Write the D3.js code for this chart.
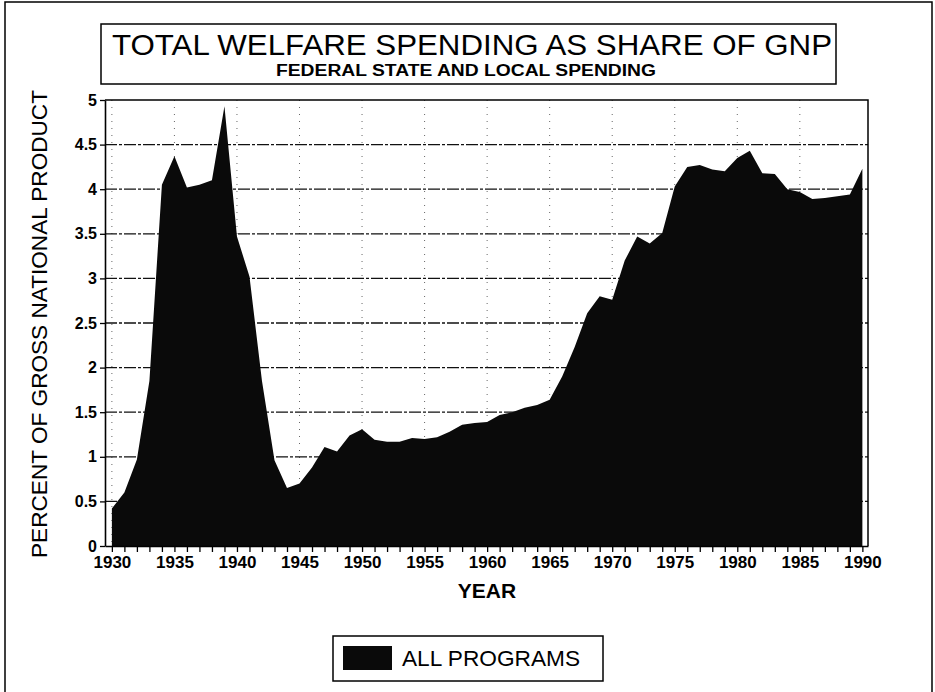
<!DOCTYPE html>
<html>
<head>
<meta charset="utf-8">
<script src="https://cdn.jsdelivr.net/npm/d3@7"></script>
<style>
  html, body { margin: 0; padding: 0; background: #fff; }
  svg { display: block; }
  text { font-family: "Liberation Sans", Arial, Helvetica, sans-serif; fill: #000; }
</style>
</head>
<body>
<script>
// Welfare spending (federal, state and local) as percent of GNP, 1930-1990
const years = d3.range(1930, 1991);
const welfareShare = [
  0.42, 0.60, 0.97, 1.85, 4.05, 4.37, 4.02, 4.05, 4.10, 4.93, // 1930-1939
  3.47, 3.02, 1.85, 0.96, 0.65, 0.70, 0.88, 1.11, 1.06, 1.24, // 1940-1949
  1.31, 1.19, 1.17, 1.17, 1.21, 1.20, 1.22, 1.28, 1.36, 1.38, // 1950-1959
  1.39, 1.47, 1.50, 1.55, 1.58, 1.64, 1.90, 2.23, 2.61, 2.80, // 1960-1969
  2.76, 3.20, 3.47, 3.39, 3.51, 4.03, 4.25, 4.27, 4.22, 4.20, // 1970-1979
  4.35, 4.43, 4.18, 4.17, 4.00, 3.97, 3.89, 3.90, 3.92, 3.94, // 1980-1989
  4.23                                                         // 1990
];
const yTickValues = [0, 0.5, 1, 1.5, 2, 2.5, 3, 3.5, 4, 4.5, 5];
const xLabelYears = [1930, 1935, 1940, 1945, 1950, 1955, 1960, 1965, 1970, 1975, 1980, 1985, 1990];
const titleText = "TOTAL WELFARE SPENDING AS SHARE OF GNP";
const subtitleText = "FEDERAL STATE AND LOCAL SPENDING";
const xAxisTitle = "YEAR";
const yAxisTitle = "PERCENT OF GROSS NATIONAL PRODUCT";
const legendLabel = "ALL PROGRAMS";

const W = 935, H = 692;
const plot = { left: 105, right: 868, top: 100, bottom: 546 };

const series = years.map((yr, i) => ({ year: yr, value: welfareShare[i] }));

const svg = d3.select("body").append("svg")
  .attr("width", W).attr("height", H)
  .attr("viewBox", `0 0 ${W} ${H}`);

// outer page frame
svg.append("path")
  .attr("d", `M5,${H} V2 H932 V${H}`)
  .attr("fill", "none").attr("stroke", "#000").attr("stroke-width", 1.5);

const x = d3.scaleLinear().domain([1929.45, 1990.45]).range([plot.left, plot.right]);
const y = d3.scaleLinear().domain([0, 5]).range([plot.bottom, plot.top]);

// grid: dotted verticals every five years, dash-dot horizontals every half point
const grid = svg.append("g");
grid.selectAll("line.v")
  .data(xLabelYears.filter(d => d < 1990))
  .join("line")
  .attr("class", "v")
  .attr("x1", d => x(d)).attr("x2", d => x(d))
  .attr("y1", plot.top).attr("y2", plot.bottom)
  .attr("stroke", "#666").attr("stroke-width", 1)
  .attr("stroke-dasharray", "1,6");
grid.selectAll("line.h")
  .data(yTickValues.filter(d => d > 0 && d < 5))
  .join("line")
  .attr("class", "h")
  .attr("x1", plot.left).attr("x2", plot.right)
  .attr("y1", d => y(d)).attr("y2", d => y(d))
  .attr("stroke", "#111").attr("stroke-width", 1.3)
  .attr("stroke-dasharray", "12,2,3,2");

// filled area
const area = d3.area()
  .x(d => x(d.year))
  .y0(y(0))
  .y1(d => y(d.value))
  .curve(d3.curveLinear);
svg.append("path")
  .datum(series)
  .attr("d", area)
  .attr("fill", "#0a0a0a");

// plot frame: top and right edges
svg.append("path")
  .attr("d", `M${plot.left},${plot.top} H${plot.right} V${plot.bottom}`)
  .attr("fill", "none").attr("stroke", "#000").attr("stroke-width", 1.5);

// axes
const xAxis = d3.axisBottom(x)
  .tickValues(years)
  .tickSize(6)
  .tickSizeOuter(0)
  .tickPadding(4)
  .tickFormat(d => (d % 5 === 0 ? String(d) : ""));
const gx = svg.append("g")
  .attr("transform", `translate(0,${plot.bottom})`)
  .call(xAxis);
gx.select(".domain").attr("stroke", "#000").attr("stroke-width", 1.6);
gx.selectAll(".tick line").attr("stroke", "#000").attr("stroke-width", 1.3);
gx.selectAll(".tick text")
  .style("font-family", '"Liberation Sans", Arial, sans-serif')
  .style("font-size", "17px").style("font-weight", "bold").attr("fill", "#000");

const yAxis = d3.axisLeft(y)
  .tickValues(yTickValues)
  .tickSize(5)
  .tickSizeOuter(0)
  .tickPadding(3)
  .tickFormat(d => String(d));
const gy = svg.append("g")
  .attr("transform", `translate(${plot.left},0)`)
  .call(yAxis);
gy.select(".domain").attr("stroke", "#000").attr("stroke-width", 1.6);
gy.selectAll(".tick line").attr("stroke", "#000").attr("stroke-width", 1.3);
gy.selectAll(".tick text")
  .style("font-family", '"Liberation Sans", Arial, sans-serif')
  .style("font-size", "16px").style("font-weight", "bold").attr("fill", "#000");

// axis titles
svg.append("text")
  .attr("x", 487).attr("y", 598)
  .attr("text-anchor", "middle")
  .style("font-size", "21px").style("font-weight", "bold")
  .text(xAxisTitle);

svg.append("text")
  .attr("transform", "translate(47,324) rotate(-90)")
  .attr("text-anchor", "middle")
  .attr("textLength", 468).attr("lengthAdjust", "spacingAndGlyphs")
  .style("font-size", "22px")
  .text(yAxisTitle);

// title block
svg.append("rect")
  .attr("x", 101).attr("y", 24).attr("width", 735).attr("height", 60)
  .attr("fill", "#fff").attr("stroke", "#000").attr("stroke-width", 1.5);
svg.append("text")
  .attr("x", 472).attr("y", 55)
  .attr("text-anchor", "middle")
  .attr("textLength", 720).attr("lengthAdjust", "spacingAndGlyphs")
  .style("font-family", '"Liberation Sans Narrow", "Liberation Sans", Arial, sans-serif')
  .style("font-size", "30px")
  .text(titleText);
svg.append("text")
  .attr("x", 466).attr("y", 76)
  .attr("text-anchor", "middle")
  .attr("textLength", 380).attr("lengthAdjust", "spacingAndGlyphs")
  .style("font-family", '"Liberation Sans Narrow", "Liberation Sans", Arial, sans-serif')
  .style("font-size", "16px").style("font-weight", "bold")
  .text(subtitleText);

// legend
const legend = svg.append("g");
legend.append("rect")
  .attr("x", 333).attr("y", 636).attr("width", 270).attr("height", 45)
  .attr("fill", "#fff").attr("stroke", "#000").attr("stroke-width", 1.5);
legend.append("rect")
  .attr("x", 343).attr("y", 646).attr("width", 49).attr("height", 24)
  .attr("fill", "#0a0a0a");
legend.append("text")
  .attr("x", 402).attr("y", 666)
  .attr("textLength", 178).attr("lengthAdjust", "spacingAndGlyphs")
  .style("font-size", "22px")
  .text(legendLabel);
</script>
</body>
</html>
